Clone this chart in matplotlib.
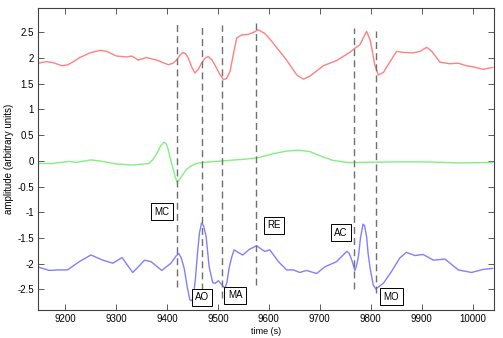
import matplotlib
matplotlib.use("Agg")
import matplotlib.pyplot as plt

plt.rcParams['font.family'] = ['Liberation Sans', 'DejaVu Sans']
plt.rcParams['axes.unicode_minus'] = False

# Red curve (top)
red_t = [9148, 9164, 9177, 9194, 9206, 9218, 9229, 9249, 9269, 9282, 9301, 9321, 9331, 9344, 9360,
         9380, 9403, 9412, 9419, 9426, 9432, 9437, 9442, 9449, 9455, 9461, 9468, 9475, 9481, 9488,
         9494, 9503, 9511, 9517, 9524, 9530, 9537, 9547, 9560, 9570,
         9579, 9592, 9603, 9615, 9635, 9655, 9668, 9681, 9707, 9733, 9759, 9769, 9779, 9786, 9792, 9799,
         9804, 9808, 9815, 9825, 9838, 9851, 9864, 9883, 9897, 9910, 9920, 9936, 9955, 9972, 9988,
         10001, 10021, 10040]
red_y = [1.90, 1.93, 1.91, 1.85, 1.87, 1.94, 2.01, 2.10, 2.15, 2.13, 2.04, 2.02, 2.04, 1.96, 2.01,
         1.96, 1.87, 1.90, 1.96, 2.06, 2.11, 2.08, 2.00, 1.82, 1.71, 1.77, 1.90, 2.00, 2.03, 1.97,
         1.87, 1.70, 1.58, 1.60, 1.74, 2.05, 2.39, 2.45, 2.46, 2.50,
         2.55, 2.48, 2.36, 2.21, 1.96, 1.67, 1.59, 1.65, 1.85, 1.95, 2.11, 2.19, 2.26, 2.40, 2.52, 2.35,
         2.10, 1.87, 1.67, 1.72, 1.93, 2.13, 2.11, 2.10, 2.13, 2.21, 2.13, 1.92, 1.89, 1.90, 1.85,
         1.83, 1.78, 1.82]

# Green curve (middle)
green_t = [9148, 9176, 9208, 9222, 9251, 9274, 9300, 9333, 9365, 9372, 9379, 9387, 9394, 9398,
           9402, 9406, 9411, 9416, 9420, 9425, 9431, 9438, 9447, 9458, 9470, 9509, 9549, 9578,
           9594, 9609, 9635, 9658, 9681, 9700, 9726, 9753, 9779, 9844, 9910, 9975, 10040]
green_y = [-0.05, -0.05, -0.01, -0.03, 0.02, -0.01, -0.06, -0.08, -0.05, 0.02, 0.12, 0.28, 0.36,
           0.34, 0.25, 0.08, -0.11, -0.30, -0.41, -0.36, -0.27, -0.17, -0.10, -0.05, -0.03, 0.00,
           0.03, 0.06, 0.10, 0.14, 0.19, 0.21, 0.18, 0.10, 0.01, -0.03, -0.03, -0.02, -0.02, -0.04,
           -0.03]

# Blue curve (bottom)
blue_t = [9146, 9169, 9186, 9205, 9228, 9251, 9274, 9294, 9312, 9322, 9333, 9345, 9356, 9369,
          9390, 9408, 9418, 9423, 9428, 9434, 9440, 9445, 9449, 9452, 9456, 9460, 9464, 9468,
          9472, 9477, 9483, 9490, 9495, 9501, 9508, 9514, 9518, 9522, 9527, 9532, 9540, 9549,
          9562, 9576, 9592, 9602, 9619, 9635, 9648, 9661, 9674, 9694, 9710, 9733, 9753, 9758,
          9763, 9769, 9772, 9776, 9780, 9785, 9788, 9792, 9795, 9799, 9805, 9810, 9825, 9841,
          9857, 9870, 9887, 9903, 9923, 9946, 9972, 9998, 10021, 10040]
blue_y = [-2.06, -2.13, -2.12, -2.12, -1.96, -1.83, -1.93, -1.99, -1.88, -2.02, -2.17, -2.05,
          -1.93, -1.96, -2.13, -1.99, -1.85, -1.80, -1.88, -2.09, -2.45, -2.70, -2.72, -2.64,
          -2.30, -1.80, -1.40, -1.21, -1.26, -1.47, -2.06, -2.37, -2.38, -2.33, -2.41, -2.48,
          -2.36, -2.09, -1.88, -1.73, -1.78, -1.83, -1.72, -1.65, -1.76, -1.73, -1.96, -2.12,
          -2.12, -2.17, -2.13, -2.19, -2.06, -1.96, -1.76, -1.80, -1.93, -2.13, -2.05, -1.86,
          -1.50, -1.23, -1.26, -1.47, -1.80, -2.09, -2.41, -2.49, -2.38, -2.15, -1.89, -1.78,
          -1.84, -1.82, -1.93, -1.91, -2.12, -2.17, -2.11, -2.09]

# Event markers
event_t = [9420, 9468, 9509, 9575, 9768, 9810]
event_top = [2.66, 2.64, 2.64, 2.68, 2.59, 2.53]
event_bot = [-2.45, -2.51, -2.67, -2.41, -2.49, -2.56]

labels = ['MC', 'AO', 'MA', 'RE', 'AC', 'MO']
label_t = [9390, 9469, 9534, 9610, 9742, 9841]
label_y = [-0.99, -2.65, -2.61, -1.25, -1.40, -2.64]

xticks = [9200, 9300, 9400, 9500, 9600, 9700, 9800, 9900, 10000]
yticks = [-2.5, -2, -1.5, -1, -0.5, 0, 0.5, 1, 1.5, 2, 2.5]

fig = plt.figure(figsize=(5.03, 3.38), dpi=100)
ax = fig.add_axes([0.0755, 0.0828, 0.9065, 0.893])

for t, y, c in [(red_t, red_y, '#ff8080'), (green_t, green_y, '#80f080'), (blue_t, blue_y, '#8080ff')]:
    ax.plot(t, y, color=c, lw=1.0, solid_joinstyle='round', solid_capstyle='round')

for t, y0, y1 in zip(event_t, event_bot, event_top):
    ax.plot([t, t], [y0, y1], color='#707070', lw=1.0, ls=(0, (5, 3)))

for lab, t, y in zip(labels, label_t, label_y):
    ax.text(t, y, lab, ha='center', va='center', fontsize=7,
            bbox=dict(boxstyle='square,pad=0.35', fc='white', ec='black', lw=0.7))

ax.set_xlim(9147, 10042)
ax.set_ylim(-2.9, 2.97)
ax.set_xticks(xticks)
ax.set_xticklabels([str(v) for v in xticks])
ax.set_yticks(yticks)
ax.set_yticklabels([('%g' % v) for v in yticks])
ax.tick_params(direction='in', top=True, right=True, labelsize=7, length=4, width=0.6,
               colors='#404040', labelcolor='black', pad=3)
for s in ax.spines.values():
    s.set_color('#404040')
    s.set_linewidth(0.8)

ax.set_xlabel('time (s)', fontsize=6.5, labelpad=2)
ax.set_ylabel('amplitude (arbitrary units)', fontsize=7, labelpad=2)

fig.savefig('out.png', dpi=100)
